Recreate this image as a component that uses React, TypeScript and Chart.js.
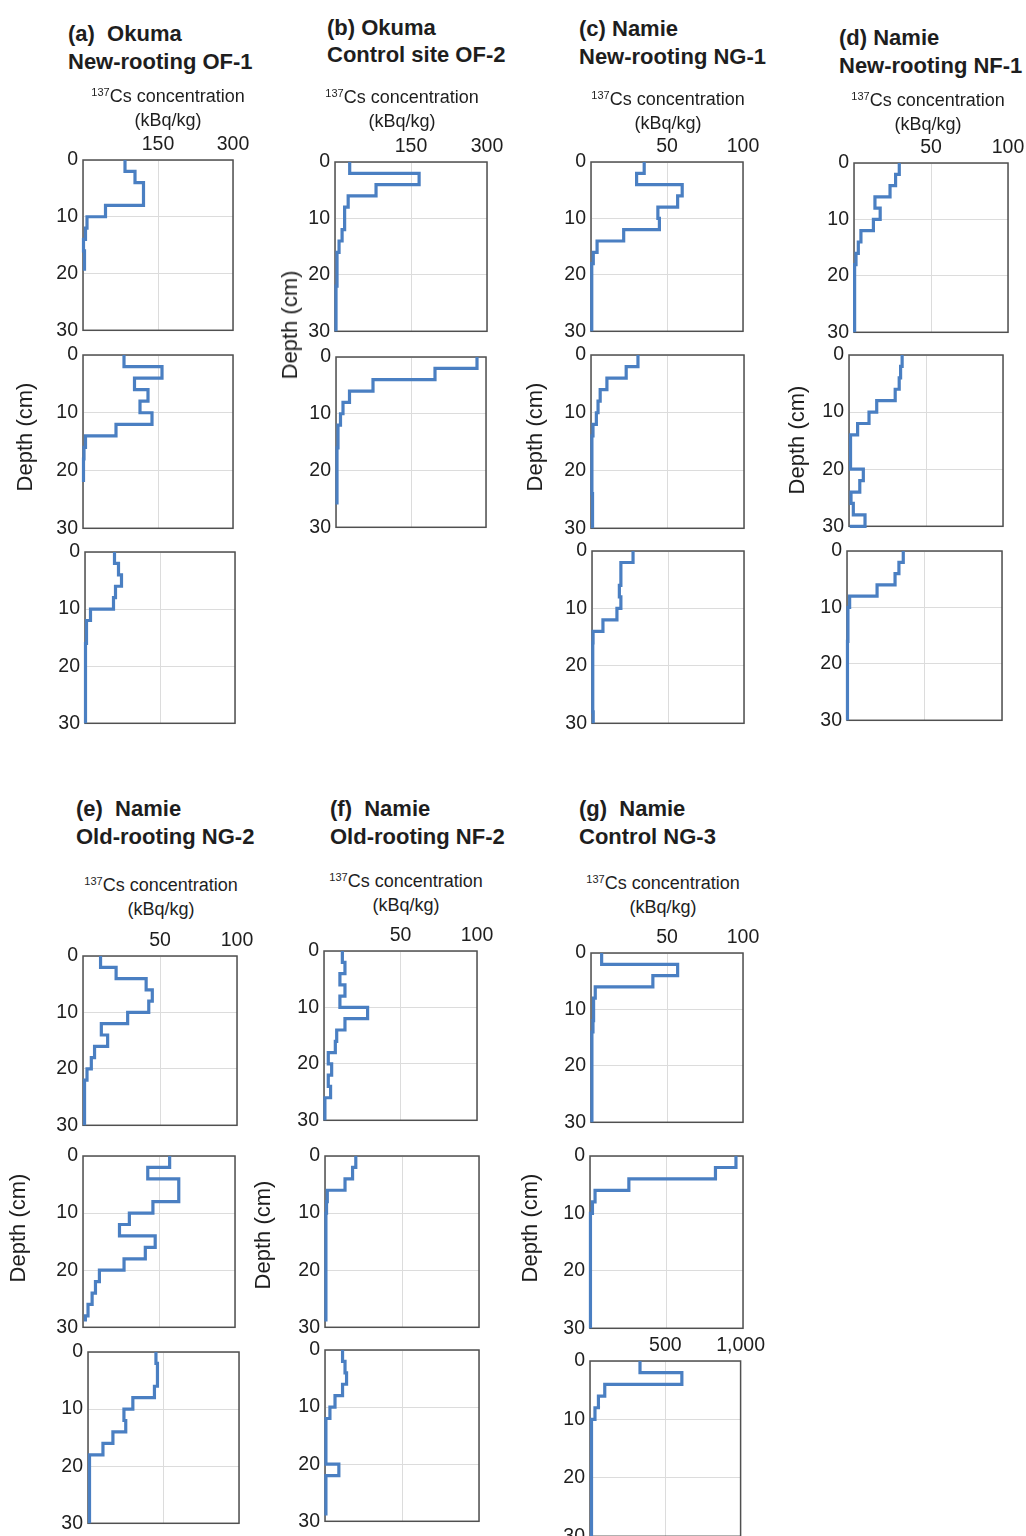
import React, { useEffect, useRef } from 'react';
import { Chart, registerables } from 'chart.js';

Chart.register(...registerables);

// ---- data: 137Cs concentration (kBq/kg) for consecutive 2-cm layers from 0 cm ----
const LAYER_CM = 2;
const DEPTH_TICKS = [0, 10, 20, 30];

const a1Values = [84, 104, 121, 121, 45, 8, 5, 1, 3, 3];
const a1Bottom = 19.5;
const a2Values = [82, 158, 103, 130, 114, 138, 66, 5, 2, 1, 1];
const a2Bottom = 22;
const a3Values = [59, 67, 73, 61, 57, 11, 3, 3, 1, 1, 1, 1, 1, 1, 1];
const a3Bottom = 30;
const b1Values = [29, 166, 81, 26, 19, 19, 14, 8, 4, 4, 4, 2, 2, 2, 2];
const b1Bottom = 30;
const b2Values = [282, 198, 74, 27, 14, 9, 4, 4, 2, 2, 2, 2, 2];
const b2Bottom = 26;
const c1Values = [35, 30, 60, 57, 44, 45, 21.5, 4, 1.5, 0.5, 0.5, 0.5, 0.5, 0.5, 0.5];
const c1Bottom = 30;
const c2Values = [30.7, 23, 10.4, 6, 4.6, 3.5, 1.3, 0.6, 0.6, 0.6, 0.6, 0.6, 1, 1, 1];
const c2Bottom = 30;
const c3Values = [27, 19, 19, 18, 19, 16.4, 7.2, 0.7, 0.5, 0.5, 0.5, 0.5, 0.5, 0.5, 0.8];
const c3Bottom = 30;
const d1Values = [29.4, 27, 23.4, 13.6, 17, 12.6, 4.5, 2.8, 1.3, 0.4, 0.4, 0.4, 0.4, 0.4, 0.4];
const d1Bottom = 30;
const d2Values = [34.5, 33.5, 32.6, 30, 18, 13, 5.6, 1, 1, 1, 9.3, 7, 1.3, 2.8, 10.4, 0.5];
const d2Bottom = 32;
const d3Values = [36.3, 33.5, 31, 19.4, 1.7, 0.6, 0.6, 0.6, 0.3, 0.3, 0.3, 0.3, 0.3, 0.3, 0.3];
const d3Bottom = 30;
const e1Values = [11.4, 21.5, 41, 45, 42.7, 29, 11.9, 16, 7.5, 5.4, 2.6, 1, 1, 1, 1];
const e1Bottom = 30;
const e2Values = [57, 42.6, 63, 63, 46, 30.5, 24, 47.5, 41, 27, 10.8, 8.2, 6, 3.3, 1.6];
const e2Bottom = 29;
const e3Values = [45, 46, 46, 44, 29.7, 23.8, 25, 16.5, 9.9, 1, 1, 1, 1, 1, 1];
const e3Bottom = 30;
const f1Values = [12, 13.7, 10.4, 13.7, 10.4, 28.5, 13.7, 8.3, 7.4, 2.8, 5, 2.8, 4.3, 0.6, 0.6];
const f1Bottom = 30;
const f2Values = [20, 17.9, 13, 1.5, 1, 0.6, 0.6, 0.6, 0.6, 0.6, 0.6, 0.6, 0.6, 0.6, 0.6];
const f2Bottom = 29;
const f3Values = [11.4, 13, 14, 11.4, 6.5, 3.2, 0.6, 0.6, 0.6, 0.6, 9, 0.6, 0.6, 0.6, 0.6];
const f3Bottom = 29;
const g1Values = [7, 57, 40.7, 2.8, 1.7, 1.7, 1.3, 0.6, 0.6, 0.6, 0.6, 0.6, 0.6, 0.6, 0.6];
const g1Bottom = 30;
const g2Values = [954, 820, 254, 33, 16, 3, 3, 3, 3, 3, 3, 3, 3, 3, 3];
const g2Bottom = 30;
const g3Values = [332, 610, 98, 56, 33, 10, 10, 10, 10, 10, 10, 10, 10, 10, 10, 10];
const g3Bottom = 32;

// x-axis maxima (kBq/kg)
const X_MAX_OKUMA = 300;
const X_MAX_NAMIE = 100;
const X_MAX_HIGH = 1000;

// ---- text ----
const titleA = ['(a)  Okuma', 'New-rooting OF-1'];
const titleB = ['(b) Okuma', 'Control site OF-2'];
const titleC = ['(c) Namie', 'New-rooting NG-1'];
const titleD = ['(d) Namie', 'New-rooting NF-1'];
const titleE = ['(e)  Namie', 'Old-rooting NG-2'];
const titleF = ['(f)  Namie', 'Old-rooting NF-2'];
const titleG = ['(g)  Namie', 'Control NG-3'];
const DEPTH_LABEL = 'Depth (cm)';
const UNIT_LABEL = '(kBq/kg)';

// ---- styles / layout ----
const FONT = '"Liberation Sans", Arial, Helvetica, sans-serif';
const BLUE = '#4a7fc2';
const GRID = '#dcdcdc';
const FRAME = '#505050';
const TEXT = '#1e1e1e';
const YW = 40;
const XH = 30;
const RP = 26;
const BP = 14;

const framePlugin = {
  id: 'frame',
  beforeDatasetsDraw(chart: any) {
    const { ctx, chartArea: a } = chart;
    ctx.save();
    ctx.strokeStyle = FRAME;
    ctx.lineWidth = 1.5;
    ctx.strokeRect(a.left, a.top, a.right - a.left, a.bottom - a.top);
    ctx.restore();
  },
};

type PanelDef = {
  values: number[];
  bottom: number;
  xMax: number;
  showX: boolean;
  box: [number, number, number, number];
};

const panels: PanelDef[] = [
  { values: a1Values, bottom: a1Bottom, xMax: X_MAX_OKUMA, showX: true, box: [83, 160, 233, 333] },
  { values: a2Values, bottom: a2Bottom, xMax: X_MAX_OKUMA, showX: false, box: [83, 355, 233, 531] },
  { values: a3Values, bottom: a3Bottom, xMax: X_MAX_OKUMA, showX: false, box: [85, 552, 235, 726] },
  { values: b1Values, bottom: b1Bottom, xMax: X_MAX_OKUMA, showX: true, box: [335, 162, 487, 334] },
  { values: b2Values, bottom: b2Bottom, xMax: X_MAX_OKUMA, showX: false, box: [336, 357, 486, 530] },
  { values: c1Values, bottom: c1Bottom, xMax: X_MAX_NAMIE, showX: true, box: [591, 162, 743, 334] },
  { values: c2Values, bottom: c2Bottom, xMax: X_MAX_NAMIE, showX: false, box: [591, 355, 744, 531] },
  { values: c3Values, bottom: c3Bottom, xMax: X_MAX_NAMIE, showX: false, box: [592, 551, 744, 726] },
  { values: d1Values, bottom: d1Bottom, xMax: X_MAX_NAMIE, showX: true, box: [854, 163, 1008, 335] },
  { values: d2Values, bottom: d2Bottom, xMax: X_MAX_NAMIE, showX: false, box: [849, 355, 1003, 529] },
  { values: d3Values, bottom: d3Bottom, xMax: X_MAX_NAMIE, showX: false, box: [847, 551, 1002, 723] },
  { values: e1Values, bottom: e1Bottom, xMax: X_MAX_NAMIE, showX: true, box: [83, 956, 237, 1128] },
  { values: e2Values, bottom: e2Bottom, xMax: X_MAX_NAMIE, showX: false, box: [83, 1156, 235, 1330] },
  { values: e3Values, bottom: e3Bottom, xMax: X_MAX_NAMIE, showX: false, box: [88, 1352, 239, 1526] },
  { values: f1Values, bottom: f1Bottom, xMax: X_MAX_NAMIE, showX: true, box: [324, 951, 477, 1123] },
  { values: f2Values, bottom: f2Bottom, xMax: X_MAX_NAMIE, showX: false, box: [325, 1156, 479, 1330] },
  { values: f3Values, bottom: f3Bottom, xMax: X_MAX_NAMIE, showX: false, box: [325, 1350, 479, 1524] },
  { values: g1Values, bottom: g1Bottom, xMax: X_MAX_NAMIE, showX: true, box: [591, 953, 743, 1125] },
  { values: g2Values, bottom: g2Bottom, xMax: X_MAX_HIGH, showX: false, box: [590, 1156, 743, 1331] },
  { values: g3Values, bottom: g3Bottom, xMax: X_MAX_HIGH, showX: true, box: [590, 1361, 743, 1539] },
];

const titles = [
  { lines: titleA, left: 68, top: 20, lh: 28 },
  { lines: titleB, left: 327, top: 14, lh: 27 },
  { lines: titleC, left: 579, top: 15, lh: 28 },
  { lines: titleD, left: 839, top: 24, lh: 28 },
  { lines: titleE, left: 76, top: 795, lh: 28 },
  { lines: titleF, left: 330, top: 795, lh: 28 },
  { lines: titleG, left: 579, top: 795, lh: 28 },
];

const subtitles = [
  { cx: 168, top: 85 },
  { cx: 402, top: 86 },
  { cx: 668, top: 88 },
  { cx: 928, top: 89 },
  { cx: 161, top: 874 },
  { cx: 406, top: 870 },
  { cx: 663, top: 872 },
];

const depthLabels = [
  { cx: 25, cy: 437 },
  { cx: 290, cy: 325 },
  { cx: 535, cy: 437 },
  { cx: 797, cy: 440 },
  { cx: 18, cy: 1228 },
  { cx: 263, cy: 1235 },
  { cx: 530, cy: 1228 },
];

function Profile({ def }: { def: PanelDef }) {
  const ref = useRef<HTMLCanvasElement>(null);
  const [l, t, r, b] = def.box;
  const W = r - l + YW + RP;
  const H = b - t + XH + BP;
  useEffect(() => {
    const pts = def.values.map((v, i) => ({ x: v, y: i * LAYER_CM }));
    pts.push({ x: def.values[def.values.length - 1], y: def.bottom });
    const tickFont = { family: FONT, size: 19.5 };
    const chart = new Chart(ref.current as HTMLCanvasElement, {
      type: 'line',
      data: {
        datasets: [
          {
            data: pts,
            borderColor: BLUE,
            borderWidth: 3.2,
            pointRadius: 0,
            stepped: 'after',
            fill: false,
            clip: { left: 3, top: 3, right: 3, bottom: 2 },
          } as any,
        ],
      },
      options: {
        responsive: false,
        animation: false,
        devicePixelRatio: 1,
        indexAxis: 'y',
        events: [],
        layout: { padding: { left: 0, top: 0, right: RP, bottom: BP } },
        plugins: { legend: { display: false }, tooltip: { enabled: false } },
        scales: {
          x: {
            type: 'linear',
            position: 'top',
            min: 0,
            max: def.xMax,
            ticks: {
              display: def.showX,
              stepSize: def.xMax / 2,
              autoSkip: false,
              maxRotation: 0,
              padding: 4,
              color: TEXT,
              font: tickFont,
              callback: (v: any) => (Number(v) === 0 ? '' : Number(v).toLocaleString('en-US')),
            },
            grid: { color: GRID, drawTicks: false, lineWidth: 1 },
            border: { display: false },
            afterFit: (s: any) => {
              s.height = XH;
            },
          },
          y: {
            type: 'linear',
            reverse: true,
            min: DEPTH_TICKS[0],
            max: DEPTH_TICKS[DEPTH_TICKS.length - 1],
            afterBuildTicks: (s: any) => {
              s.ticks = DEPTH_TICKS.map((v) => ({ value: v }));
            },
            ticks: { padding: 5, color: TEXT, font: tickFont },
            grid: { color: GRID, drawTicks: false, lineWidth: 1 },
            border: { display: false },
            afterFit: (s: any) => {
              s.width = YW;
            },
          },
        },
      } as any,
      plugins: [framePlugin],
    });
    return () => chart.destroy();
  }, []);
  return (
    <canvas
      ref={ref}
      width={W}
      height={H}
      style={{ position: 'absolute', left: l - YW, top: t - XH, width: W, height: H }}
    />
  );
}

export default function App() {
  useEffect(() => {
    document.body.style.margin = '0';
  }, []);
  return (
    <div
      style={{
        position: 'absolute',
        left: 0,
        top: 0,
        width: 1026,
        height: 1536,
        overflow: 'hidden',
        background: '#ffffff',
        fontFamily: FONT,
        color: TEXT,
      }}
    >
      {panels.map((p, i) => (
        <Profile key={i} def={p} />
      ))}
      {titles.map((t, i) => (
        <div
          key={'t' + i}
          style={{
            position: 'absolute',
            left: t.left,
            top: t.top,
            fontWeight: 'bold',
            fontSize: 22,
            lineHeight: t.lh + 'px',
            whiteSpace: 'pre',
          }}
        >
          {t.lines.map((ln, j) => (
            <div key={j}>{ln}</div>
          ))}
        </div>
      ))}
      {subtitles.map((s, i) => (
        <div
          key={'s' + i}
          style={{
            position: 'absolute',
            left: s.cx - 100,
            width: 200,
            top: s.top,
            textAlign: 'center',
            fontSize: 18,
            lineHeight: '22px',
            whiteSpace: 'nowrap',
          }}
        >
          <div>
            <span style={{ fontSize: 11, position: 'relative', top: -6 }}>137</span>Cs concentration
          </div>
          <div>{UNIT_LABEL}</div>
        </div>
      ))}
      {depthLabels.map((d, i) => (
        <div
          key={'d' + i}
          style={{
            position: 'absolute',
            left: d.cx,
            top: d.cy,
            fontSize: 22,
            lineHeight: '22px',
            whiteSpace: 'nowrap',
            transform: 'translate(-50%, -50%) rotate(-90deg)',
          }}
        >
          {DEPTH_LABEL}
        </div>
      ))}
    </div>
  );
}
